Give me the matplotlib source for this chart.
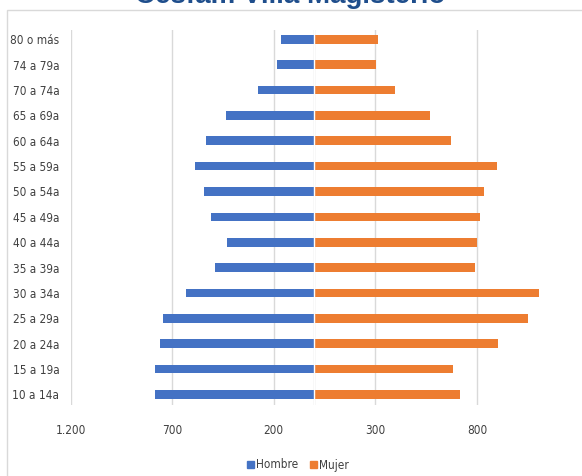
import numpy as np
import matplotlib
matplotlib.use('Agg')
import matplotlib.pyplot as plt
from matplotlib.patches import Patch, Rectangle

# age groups from youngest (bottom) to oldest (top)
age_groups = ['10 a 14a', '15 a 19a', '20 a 24a', '25 a 29a', '30 a 34a',
              '35 a 39a', '40 a 44a', '45 a 49a', '50 a 54a', '55 a 59a',
              '60 a 64a', '65 a 69a', '70 a 74a', '74 a 79a', '80 o más']
hombre = [786, 786, 758, 745, 630, 487, 428, 508, 541, 589, 535, 435, 279, 184, 162]
mujer = [716, 681, 904, 1053, 1107, 789, 802, 817, 837, 899, 674, 568, 397, 302, 315]

x_ticks = [-1200, -700, -200, 300, 800]
x_tick_labels = ['1.200', '700', '200', '300', '800']

blue = '#4472C4'
orange = '#ED7D31'

W, H = 582, 476
fig = plt.figure(figsize=(W / 100, H / 100), dpi=100)

# light chart frame
fig.patches.append(Rectangle((7 / W, -0.1), 1.2, 1 - 10 / H + 0.1, transform=fig.transFigure,
                             fill=False, edgecolor='#D9D9D9', linewidth=1))

ax = fig.add_axes([70.5 / W, 71 / H, 508 / W, 375.3 / H])

y = np.arange(len(age_groups))
ax.barh(y, [-v for v in hombre], height=0.34, color=blue, zorder=3)
ax.barh(y, mujer, height=0.34, color=orange, zorder=3)
ax.axvline(0, color='white', linewidth=1, zorder=4)

ax.set_xlim(-1200, 1300)
ax.set_ylim(-0.42, 14.38)

for gx in x_ticks + [0]:
    ax.axvline(gx, color='#D9D9D9', linewidth=1, zorder=1)

ax.set_xticks(x_ticks)
ax.set_xticklabels(x_tick_labels)
ax.set_yticks(y)
ax.set_yticklabels(age_groups)
for s in ax.spines.values():
    s.set_visible(False)
ax.tick_params(axis='both', length=0, colors='#404040', labelsize=8.5)
ax.tick_params(axis='x', pad=14)
ax.tick_params(axis='y', pad=8)
for t in ax.get_xticklabels() + ax.get_yticklabels():
    t.set_family('DejaVu Sans')
    t.set_fontstretch('condensed')

fig.text(290 / W, 1 - 3 / H, 'Cesfam Villa Magisterio', ha='center', va='baseline',
         fontsize=20, fontweight='bold', color='#1F4E8C', family='Liberation Sans')

handles = [Patch(color=blue, label='Hombre'), Patch(color=orange, label='Mujer')]
leg = fig.legend(handles=handles, loc='center', bbox_to_anchor=(298 / W, 1 - 465 / H), ncol=2,
                 frameon=False, handlelength=0.55, handleheight=0.55, handletextpad=0.2,
                 columnspacing=1.0, prop={'family': 'DejaVu Sans', 'stretch': 'condensed', 'size': 8.5})
for t in leg.get_texts():
    t.set_color('#404040')

fig.savefig('out.png', dpi=100)
